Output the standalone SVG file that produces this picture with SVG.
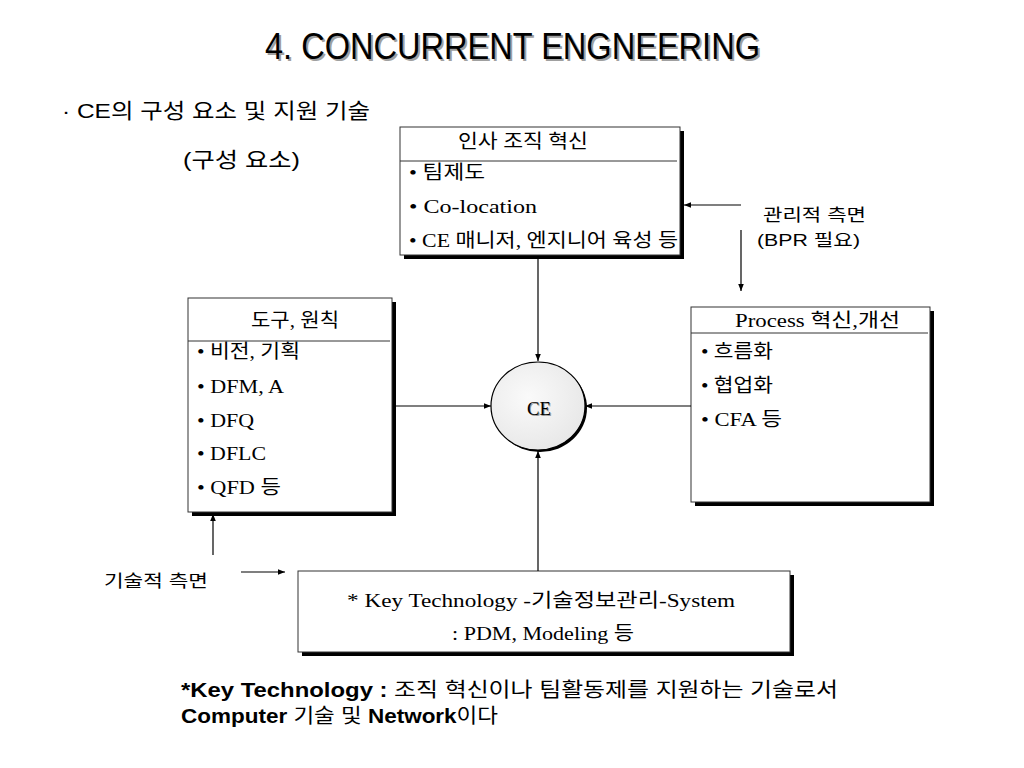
<svg xmlns="http://www.w3.org/2000/svg" width="1024" height="768" viewBox="0 0 1024 768">
<defs>
<style>
.box{fill:#fff;stroke:#333;stroke-width:1}
.sh{fill:#000}
.div{stroke:#333;stroke-width:1}
.ser{font-family:"Liberation Serif","Noto Sans CJK KR",serif;font-size:19px;fill:#000}
.san{font-family:"Liberation Sans","Noto Sans CJK KR",sans-serif;fill:#000}
.ln{stroke:#000;stroke-width:1.2;fill:none}
</style>
<marker id="ah" viewBox="0 0 10 10" refX="10" refY="5" markerWidth="7" markerHeight="7" orient="auto" markerUnits="userSpaceOnUse">
<path d="M0,1 L10,5 L0,9 z" fill="#000"/>
</marker>
<radialGradient id="cg" cx="0.4" cy="0.4" r="0.7">
<stop offset="0" stop-color="#fafafa"/>
<stop offset="1" stop-color="#e6e6e6"/>
</radialGradient>
</defs>
<rect width="1024" height="768" fill="#fff"/>

<g id="title">
<text x="267" y="61" class="san" font-size="36" textLength="495" lengthAdjust="spacingAndGlyphs" style="fill:#a0a0a0">4. CONCURRENT ENGNEERING</text>
<text x="265" y="59" class="san" font-size="36" textLength="495" lengthAdjust="spacingAndGlyphs">4. CONCURRENT ENGNEERING</text>
</g>
<g id="subtitle">
<text x="62" y="118" class="san" font-size="21" textLength="308" lengthAdjust="spacingAndGlyphs">· CE의 구성 요소 및 지원 기술</text>
<text x="183" y="167" class="san" font-size="21" textLength="117" lengthAdjust="spacingAndGlyphs">(구성 요소)</text>
</g>

<g id="node-hr">
<rect x="404" y="131" width="280" height="128" class="sh"/>
<rect x="400" y="127" width="280" height="128" class="box"/>
<line x1="400" y1="161" x2="677" y2="161" class="div"/>
<text x="458" y="148" class="ser" textLength="130" lengthAdjust="spacingAndGlyphs">인사 조직 혁신</text>
<text x="409" y="179" class="ser" textLength="76" lengthAdjust="spacingAndGlyphs">• 팀제도</text>
<text x="409" y="213" class="ser" textLength="128" lengthAdjust="spacingAndGlyphs">• Co-location</text>
<text x="409" y="247" class="ser" textLength="269" lengthAdjust="spacingAndGlyphs">• CE 매니저, 엔지니어 육성 등</text>
</g>

<g id="node-tools">
<rect x="192" y="302" width="204" height="214" class="sh"/>
<rect x="188" y="298" width="204" height="214" class="box"/>
<line x1="188" y1="341" x2="390" y2="341" class="div"/>
<text x="251" y="327" class="ser" textLength="88" lengthAdjust="spacingAndGlyphs">도구, 원칙</text>
<text x="197" y="358" class="ser" textLength="103" lengthAdjust="spacingAndGlyphs">• 비전, 기획</text>
<text x="197" y="393" class="ser" textLength="87" lengthAdjust="spacingAndGlyphs">• DFM, A</text>
<text x="197" y="427" class="ser" textLength="57" lengthAdjust="spacingAndGlyphs">• DFQ</text>
<text x="197" y="460" class="ser" textLength="69" lengthAdjust="spacingAndGlyphs">• DFLC</text>
<text x="197" y="494" class="ser" textLength="84" lengthAdjust="spacingAndGlyphs">• QFD 등</text>
</g>

<g id="node-process">
<rect x="695" y="311" width="239" height="195" class="sh"/>
<rect x="691" y="307" width="239" height="195" class="box"/>
<line x1="691" y1="333" x2="928" y2="333" class="div"/>
<text x="735" y="327" class="ser" textLength="165" lengthAdjust="spacingAndGlyphs">Process 혁신,개선</text>
<text x="701" y="358" class="ser" textLength="72" lengthAdjust="spacingAndGlyphs">• 흐름화</text>
<text x="701" y="392" class="ser" textLength="72" lengthAdjust="spacingAndGlyphs">• 협업화</text>
<text x="701" y="426" class="ser" textLength="81" lengthAdjust="spacingAndGlyphs">• CFA 등</text>
</g>

<g id="node-ce">
<ellipse cx="540" cy="408" rx="47" ry="44" fill="#000"/>
<ellipse cx="538" cy="406" rx="47" ry="44" fill="url(#cg)" stroke="#000" stroke-width="1.2"/>
<text x="528" y="416" class="ser" font-size="21" textLength="24" lengthAdjust="spacingAndGlyphs" style="fill:#999">CE</text>
<text x="527" y="415" class="ser" font-size="21" textLength="24" lengthAdjust="spacingAndGlyphs">CE</text>
</g>

<g id="node-keytech">
<rect x="302" y="575" width="492" height="81" class="sh"/>
<rect x="298" y="571" width="492" height="81" class="box"/>
<text x="347" y="607" class="ser" textLength="388" lengthAdjust="spacingAndGlyphs">* Key Technology -기술정보관리-System</text>
<text x="452" y="640" class="ser" textLength="182" lengthAdjust="spacingAndGlyphs">: PDM, Modeling 등</text>
</g>

<g id="label-mgmt">
<text x="763" y="221" class="san" font-size="17" textLength="103" lengthAdjust="spacingAndGlyphs">관리적 측면</text>
<text x="757" y="246" class="san" font-size="17" textLength="103" lengthAdjust="spacingAndGlyphs">(BPR 필요)</text>
</g>
<g id="label-tech">
<text x="104" y="587" class="san" font-size="17" textLength="104" lengthAdjust="spacingAndGlyphs">기술적 측면</text>
</g>

<g id="connectors">
<line x1="538" y1="256" x2="538" y2="361" class="ln" marker-end="url(#ah)"/>
<line x1="393" y1="406" x2="491" y2="406" class="ln" marker-end="url(#ah)"/>
<line x1="691" y1="406" x2="585" y2="406" class="ln" marker-end="url(#ah)"/>
<line x1="538" y1="571" x2="538" y2="451" class="ln" marker-end="url(#ah)"/>
<line x1="741" y1="205" x2="684" y2="205" class="ln" marker-end="url(#ah)"/>
<line x1="741" y1="230" x2="741" y2="291" class="ln" marker-end="url(#ah)"/>
<line x1="213" y1="555" x2="213" y2="514" class="ln" marker-end="url(#ah)"/>
<line x1="241" y1="572" x2="285" y2="572" class="ln" marker-end="url(#ah)"/>
</g>

<g id="footnote">
<text x="181" y="697" class="san" font-size="20" textLength="657" lengthAdjust="spacingAndGlyphs"><tspan font-weight="bold">*Key Technology : </tspan>조직 혁신이나 팀활동제를 지원하는 기술로서</text>
<text x="181" y="723" class="san" font-size="20" textLength="317" lengthAdjust="spacingAndGlyphs"><tspan font-weight="bold">Computer</tspan> 기술 및 <tspan font-weight="bold">Network</tspan>이다</text>
</g>
</svg>
